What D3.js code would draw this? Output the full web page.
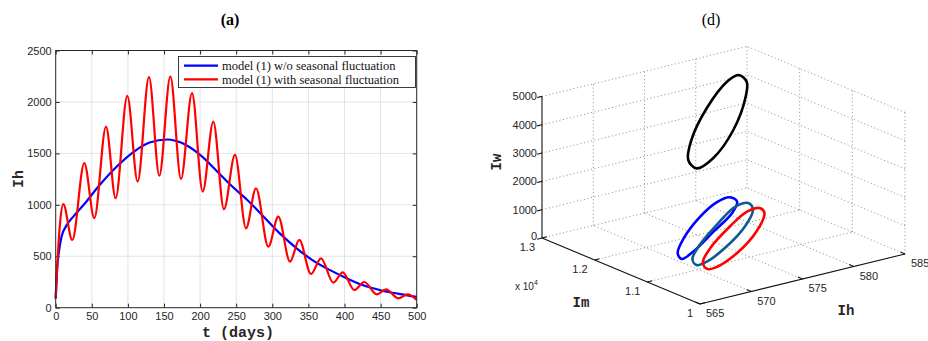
<!DOCTYPE html>
<html>
<head>
<meta charset="utf-8">
<script src="https://cdn.jsdelivr.net/npm/d3@7"></script>
<style>
  body { margin: 0; background: #fff; }
  svg { display: block; font-family: "Liberation Sans", Arial, sans-serif; }
</style>
</head>
<body>
<svg id="chart" width="928" height="341"></svg>
<script>
// ---- panel (a) data ----
const tTicks = [0, 50, 100, 150, 200, 250, 300, 350, 400, 450, 500];
const ihTicks = [0, 500, 1000, 1500, 2000, 2500];
const legendLabels = ["model (1) w/o seasonal fluctuation", "model (1) with seasonal fluctuation"];

const blueT  = [0, 2, 4, 8, 15, 25, 40, 60, 85, 110, 130, 155, 175, 200, 225, 245, 265, 290, 310, 335, 355, 380, 405, 425, 450, 475, 500];
const blueIh = [90, 380, 520, 690, 800, 890, 1010, 1185, 1375, 1525, 1605, 1635, 1600, 1485, 1315, 1175, 1050, 870, 725, 570, 465, 365, 280, 220, 170, 135, 105];

const redT  = [0, 3, 6, 10.5, 23, 39.6, 53.5, 69.7, 83, 99.2, 113.5, 129.2, 143.5, 158.8, 173.5, 188.8, 203.6, 218.3, 233, 248.3, 263.6,
               277.4, 294.5, 308.3, 324.5, 337.4, 353.6, 367.5, 384.5, 397.5, 413.6, 427.4, 444.6, 457.5, 474.5, 487.5, 500];
const redIh = [90, 520, 820, 1006, 658, 1405, 870, 1761, 1064, 2059, 1226, 2241, 1284, 2247, 1252, 2085, 1129, 1809, 957, 1486, 772,
               1161, 594, 885, 448, 659, 328, 480, 243, 344, 172, 250, 130, 179, 91, 130, 75];

// ---- panel (d) data ----
const ih3Ticks = [565, 570, 575, 580, 585];
const im3Ticks = [10000, 11000, 12000, 13000];
const im3Labels = ["1", "1.1", "1.2", "1.3"];
const iw3Ticks = [0, 1000, 2000, 3000, 4000, 5000];

const blackIm = 12500;
const blackIh = [581.6, 582.4, 582.3, 581.1, 579.1, 577.5, 576.7, 577.0, 578.5, 580.5];
const blackIw = [4680, 4371, 3847, 2781, 1953, 1744, 2109, 2786, 3777, 4544];
const blueIm = 11300;
const blueLoopIh = [574.6, 575.3, 574.8, 573.0, 571.0, 569.9, 569.5, 570.1, 571.7, 573.3];
const blueLoopIw = [1910, 1697, 1329, 839, 304, 147, 386, 864, 1483, 1847];
const tealIm = 11000;
const tealIh = [574.9, 575.3, 574.5, 572.7, 570.8, 569.8, 569.4, 570.1, 571.9, 573.6];
const tealIw = [1909, 1635, 1111, 562, 205, 175, 424, 853, 1461, 1903];
const redIm = 10800;
const redLoopIh = [575.0, 575.4, 574.6, 572.7, 570.6, 569.8, 569.4, 570.1, 572.0, 573.7];
const redLoopIw = [1879, 1667, 1081, 490, 168, 194, 465, 897, 1487, 1873];

const svg = d3.select("#chart");
const axisCol = "#262626";

// ================= panel (a) =================
const L = { left: 55.7, right: 416.7, top: 50.5, bottom: 307.7 };
const x = d3.scaleLinear().domain([0, 500]).range([L.left, L.right]);
const y = d3.scaleLinear().domain([0, 2500]).range([L.bottom, L.top]);

svg.append("text").attr("x", 230).attr("y", 25).attr("text-anchor", "middle")
  .style("font-family", "'Liberation Serif', serif").style("font-weight", "bold").style("font-size", "16px")
  .text("(a)");

const ga = svg.append("g");
ga.append("g").selectAll("line").data(tTicks.slice(1, -1)).join("line")
  .attr("x1", d => x(d)).attr("x2", d => x(d)).attr("y1", L.top).attr("y2", L.bottom)
  .attr("stroke", "#e3e3e3").attr("stroke-width", 1);
ga.append("g").selectAll("line").data(ihTicks.slice(1, -1)).join("line")
  .attr("x1", L.left).attr("x2", L.right).attr("y1", d => y(d)).attr("y2", d => y(d))
  .attr("stroke", "#e3e3e3").attr("stroke-width", 1);

function styleAxis(g) {
  g.select(".domain").remove();
  g.selectAll("line").attr("stroke", axisCol);
  g.selectAll("text").attr("fill", axisCol).style("font-size", "11px");
}
ga.append("g").attr("transform", `translate(0,${L.bottom})`)
  .call(d3.axisBottom(x).tickValues(tTicks).tickFormat(d3.format("d")).tickSize(-4).tickPadding(5)).call(styleAxis);
ga.append("g").attr("transform", `translate(0,${L.top})`)
  .call(d3.axisTop(x).tickValues(tTicks).tickSize(-4).tickFormat("")).call(styleAxis);
ga.append("g").attr("transform", `translate(${L.left},0)`)
  .call(d3.axisLeft(y).tickValues(ihTicks).tickFormat(d3.format("d")).tickSize(-4).tickPadding(4)).call(styleAxis);
ga.append("g").attr("transform", `translate(${L.right},0)`)
  .call(d3.axisRight(y).tickValues(ihTicks).tickSize(-4).tickFormat("")).call(styleAxis);

const line = d3.line().x(d => x(d[0])).y(d => y(d[1])).curve(d3.curveMonotoneX);
ga.append("path").datum(blueT.map((t, i) => [t, blueIh[i]]))
  .attr("d", line).attr("fill", "none").attr("stroke", "#0000ff").attr("stroke-width", 2.2);
ga.append("path").datum(redT.map((t, i) => [t, redIh[i]]))
  .attr("d", line).attr("fill", "none").attr("stroke", "#ff0000").attr("stroke-width", 2.2);

ga.append("rect").attr("x", L.left).attr("y", L.top).attr("width", L.right - L.left).attr("height", L.bottom - L.top)
  .attr("fill", "none").attr("stroke", axisCol).attr("stroke-width", 1);

// legend
const lg = ga.append("g").attr("transform", "translate(178.5,56.5)");
lg.append("rect").attr("width", 237).attr("height", 31).attr("fill", "#fff").attr("stroke", axisCol).attr("stroke-width", 0.9);
const legCols = ["#0000ff", "#ff0000"];
legendLabels.forEach((lab, i) => {
  const yy = 9.2 + i * 13.6;
  lg.append("line").attr("x1", 5.5).attr("x2", 39.5).attr("y1", yy).attr("y2", yy)
    .attr("stroke", legCols[i]).attr("stroke-width", 2.2);
  lg.append("text").attr("x", 43.5).attr("y", yy + 4.3)
    .style("font-family", "'Liberation Serif', serif").style("font-size", "12.5px").attr("fill", "#111")
    .text(lab);
});

ga.append("text").attr("x", 238).attr("y", 337).attr("text-anchor", "middle")
  .style("font-family", "'Liberation Mono', monospace").style("font-weight", "bold").style("font-size", "15px")
  .attr("fill", axisCol).text("t (days)");
ga.append("text").attr("transform", "translate(23,179) rotate(-90)").attr("text-anchor", "middle")
  .style("font-family", "'Liberation Mono', monospace").style("font-weight", "bold").style("font-size", "15px")
  .attr("fill", axisCol).text("Ih");

// ================= panel (d) =================
svg.append("text").attr("x", 711).attr("y", 25).attr("text-anchor", "middle")
  .style("font-family", "'Liberation Serif', serif").style("font-size", "16px")
  .text("(d)");

const O = { x: 700, y: 304 };          // corner Ih=565, Im=1.0, Iw=0
const eIh = { x: 205, y: -50 };
const eIm = { x: -158, y: -66 };
const u = d3.scaleLinear().domain([565, 585]).range([0, 1]);
const v = d3.scaleLinear().domain([10000, 13000]).range([0, 1]);
const w = d3.scaleLinear().domain([0, 5000]).range([0, 141.6]);
function proj(ih, im, iw) {
  const a = u(ih), b = v(im);
  return [O.x + a * eIh.x + b * eIm.x, O.y + a * eIh.y + b * eIm.y - w(iw)];
}

const gd = svg.append("g");
const grid = gd.append("g").attr("fill", "none").attr("stroke", "#808080")
  .attr("stroke-width", 0.9).attr("stroke-dasharray", "1,2.6");
function seg(p, q) {
  grid.append("line").attr("x1", p[0]).attr("y1", p[1]).attr("x2", q[0]).attr("y2", q[1]);
}
const imMin = 10000, imMax = 13000, ihMin = 565, ihMax = 585, iwMax = 5000;
// floor
ih3Ticks.slice(1).forEach(ih => seg(proj(ih, imMin, 0), proj(ih, imMax, 0)));
im3Ticks.slice(1).forEach(im => seg(proj(ihMin, im, 0), proj(ihMax, im, 0)));
// left back wall (Im = 1.3)
ih3Ticks.slice(1).forEach(ih => seg(proj(ih, imMax, 0), proj(ih, imMax, iwMax)));
iw3Ticks.slice(1).forEach(iw => seg(proj(ihMin, imMax, iw), proj(ihMax, imMax, iw)));
// right back wall (Ih = 585)
im3Ticks.slice(0, -1).forEach(im => seg(proj(ihMax, im, 0), proj(ihMax, im, iwMax)));
iw3Ticks.slice(1).forEach(iw => seg(proj(ihMax, imMin, iw), proj(ihMax, imMax, iw)));

// solid axes
const axes = gd.append("g").attr("stroke", "#111").attr("stroke-width", 1.1);
function aseg(p, q) {
  axes.append("line").attr("x1", p[0]).attr("y1", p[1]).attr("x2", q[0]).attr("y2", q[1]);
}
aseg(proj(ihMin, imMax, 0), proj(ihMin, imMax, iwMax));
aseg(proj(ihMin, imMin, 0), proj(ihMin, imMax, 0));
aseg(proj(ihMin, imMin, 0), proj(ihMax, imMin, 0));

const tickLen = 5;
const nIh = Math.hypot(eIh.x, eIh.y), nIm = Math.hypot(eIm.x, eIm.y);
iw3Ticks.forEach(iw => {
  const p = proj(ihMin, imMax, iw);
  aseg(p, [p[0] - tickLen * eIh.x / nIh, p[1] - tickLen * eIh.y / nIh]);
});
im3Ticks.forEach(im => {
  const p = proj(ihMin, im, 0);
  aseg(p, [p[0] + tickLen * eIh.x / nIh, p[1] + tickLen * eIh.y / nIh]);
});
ih3Ticks.forEach(ih => {
  const p = proj(ih, imMin, 0);
  aseg(p, [p[0] + tickLen * eIm.x / nIm, p[1] + tickLen * eIm.y / nIm]);
});

const lab = gd.append("g").style("font-size", "11px").attr("fill", axisCol);
iw3Ticks.forEach(iw => {
  const p = proj(ihMin, imMax, iw);
  lab.append("text").attr("x", p[0] - 5).attr("y", p[1] - (iw === 0 ? 1.5 : 0)).attr("dy", "0.35em").attr("text-anchor", "end").text(iw);
});
im3Ticks.forEach((im, i) => {
  const p = proj(ihMin, im, 0);
  lab.append("text").attr("x", p[0] - 7).attr("y", p[1] + 9.5).attr("dy", "0.35em").attr("text-anchor", "end").text(im3Labels[i]);
});
ih3Ticks.forEach(ih => {
  const p = proj(ih, imMin, 0);
  lab.append("text").attr("x", p[0] + 6).attr("y", p[1] + 9.5).attr("dy", "0.35em").attr("text-anchor", "start").text(ih);
});
const exp = lab.append("text").attr("x", 515).attr("y", 290).style("font-size", "10px");
exp.append("tspan").text("x 10");
exp.append("tspan").attr("dy", -5).style("font-size", "7px").text("4");

const mono = { "font-family": "'Liberation Mono', monospace", "font-weight": "bold", "font-size": "14px" };
function monoText(t, tr) {
  const e = gd.append("text").attr("transform", tr).attr("text-anchor", "middle").attr("fill", axisCol).text(t);
  Object.entries(mono).forEach(([k, val]) => e.style(k, val));
}
monoText("Im", "translate(581,307)");
monoText("Ih", "translate(846,315)");
monoText("Iw", "translate(501,162) rotate(-90)");

// loops
const loopLine = d3.line().curve(d3.curveCatmullRomClosed.alpha(0.5));
const loops = [
  { ih: blackIh, iw: blackIw, im: blackIm, col: "#000000" },
  { ih: blueLoopIh, iw: blueLoopIw, im: blueIm, col: "#0000ff" },
  { ih: tealIh, iw: tealIw, im: tealIm, col: "#0b5a94" },
  { ih: redLoopIh, iw: redLoopIw, im: redIm, col: "#ff0000" }
];
gd.append("g").selectAll("path").data(loops).join("path")
  .attr("d", d => loopLine(d.ih.map((h, i) => proj(h, d.im, d.iw[i]))))
  .attr("fill", "none").attr("stroke", d => d.col).attr("stroke-width", 2.6);
</script>
</body>
</html>
